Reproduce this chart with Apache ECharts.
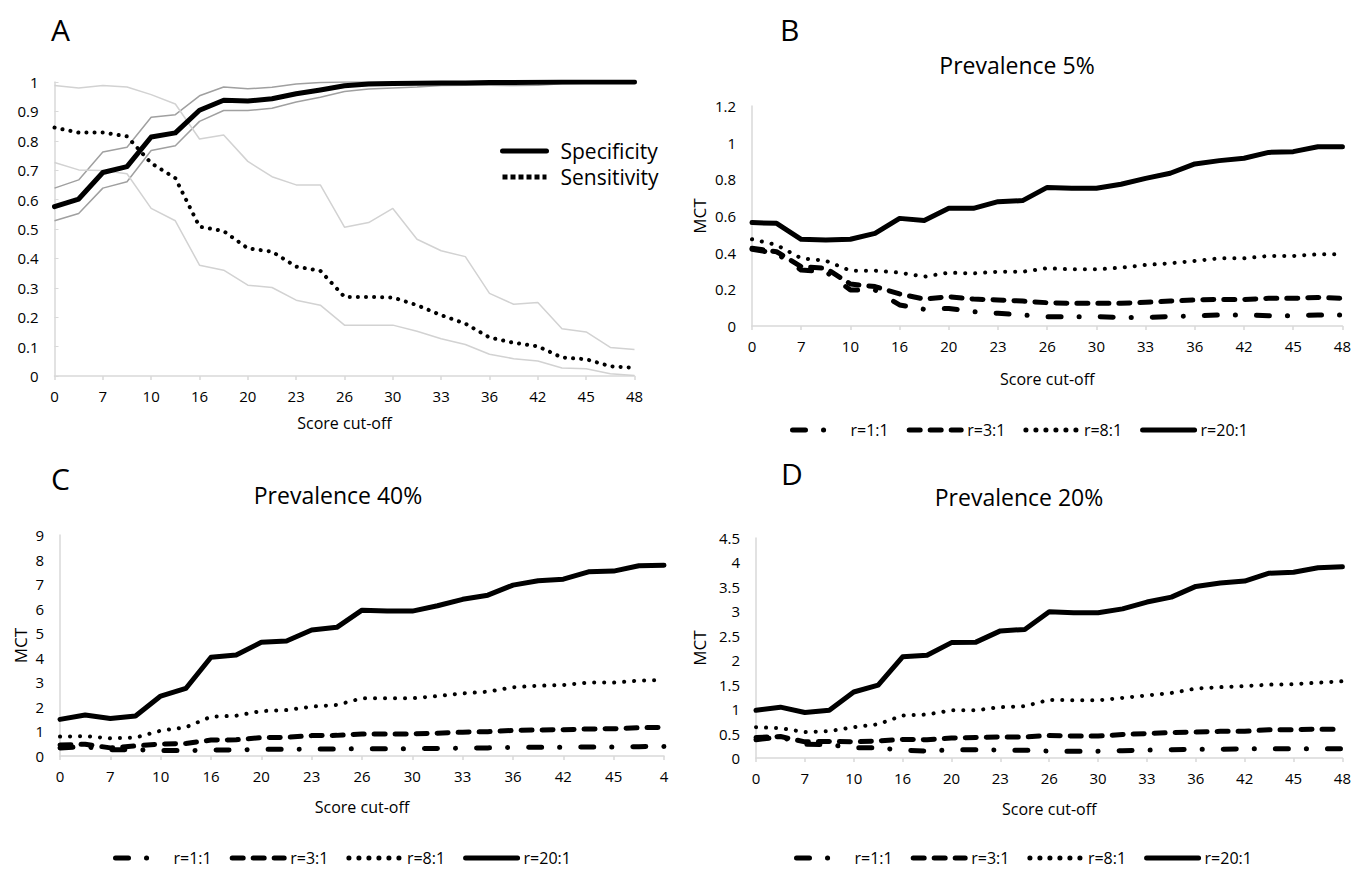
<!DOCTYPE html>
<html>
<head>
<meta charset="utf-8">
<script src="https://cdn.jsdelivr.net/npm/echarts@6/dist/echarts.min.js"></script>
<style>
html,body{margin:0;padding:0;background:#fff;}
#chart{width:1354px;height:870px;}
</style>
</head>
<body>
<div id="chart"></div>
<script>
// ---- data ----
const cutoffs = ['0','3','7','8','10','13','16','18','20','21','23','24','26','28','30','31','33','34','36','39','42','43','45','46','48'];
const cutoffsC = ['0','3','7','8','10','13','16','18','20','21','23','24','26','28','30','31','33','34','36','39','42','43','45','46','4'];

// Panel A
const specificity   = [0.576,0.602,0.692,0.712,0.813,0.827,0.904,0.938,0.935,0.943,0.960,0.973,0.987,0.993,0.995,0.996,0.997,0.997,0.998,0.998,0.999,1,1,1,1];
const specUpper     = [0.639,0.667,0.762,0.778,0.880,0.889,0.953,0.983,0.977,0.982,0.993,0.998,1,1,1,1,1,1,1,1,1,1,1,1,1];
const specLower     = [0.528,0.553,0.639,0.661,0.767,0.783,0.866,0.903,0.903,0.911,0.932,0.948,0.968,0.976,0.980,0.983,0.988,0.989,0.989,0.988,0.989,0.994,0.996,0.998,0.998];
const sensitivity   = [0.845,0.828,0.828,0.815,0.724,0.673,0.508,0.493,0.434,0.423,0.372,0.358,0.269,0.269,0.267,0.241,0.207,0.178,0.131,0.113,0.101,0.063,0.057,0.033,0.028];
const sensUpper     = [0.988,0.980,0.988,0.983,0.957,0.925,0.806,0.820,0.730,0.678,0.650,0.650,0.506,0.522,0.570,0.465,0.426,0.406,0.281,0.244,0.250,0.161,0.150,0.097,0.090];
const sensLower     = [0.726,0.701,0.699,0.688,0.570,0.528,0.377,0.360,0.309,0.301,0.258,0.241,0.173,0.173,0.173,0.152,0.127,0.107,0.074,0.059,0.051,0.027,0.025,0.008,0.002];

// Panel B: prevalence 5%
const b_r1  = [0.418,0.396,0.305,0.296,0.196,0.196,0.115,0.091,0.096,0.078,0.069,0.060,0.051,0.051,0.051,0.047,0.047,0.051,0.055,0.060,0.060,0.056,0.056,0.060,0.060];
const b_r3  = [0.424,0.405,0.324,0.315,0.229,0.215,0.175,0.147,0.160,0.147,0.142,0.136,0.127,0.124,0.124,0.124,0.129,0.136,0.142,0.145,0.145,0.151,0.151,0.156,0.151];
const b_r8  = [0.473,0.442,0.369,0.356,0.302,0.302,0.291,0.269,0.291,0.287,0.296,0.296,0.315,0.309,0.309,0.318,0.333,0.342,0.355,0.369,0.369,0.382,0.382,0.391,0.391];
const b_r20 = [0.564,0.560,0.473,0.469,0.473,0.505,0.587,0.575,0.642,0.642,0.678,0.684,0.756,0.751,0.751,0.773,0.805,0.833,0.884,0.902,0.915,0.947,0.951,0.978,0.978];

// Panel C: prevalence 40%
const c_r1  = [0.33,0.38,0.25,0.26,0.22,0.22,0.24,0.25,0.27,0.27,0.28,0.28,0.30,0.30,0.30,0.31,0.32,0.33,0.35,0.36,0.36,0.37,0.37,0.38,0.39];
const c_r3  = [0.45,0.48,0.33,0.41,0.49,0.51,0.65,0.66,0.75,0.76,0.83,0.84,0.90,0.90,0.90,0.93,0.97,0.99,1.04,1.06,1.07,1.10,1.11,1.15,1.17];
const c_r8  = [0.79,0.81,0.72,0.75,1.03,1.17,1.60,1.64,1.83,1.87,2.01,2.08,2.35,2.35,2.35,2.44,2.55,2.62,2.80,2.86,2.89,2.99,2.99,3.07,3.09];
const c_r20 = [1.49,1.67,1.53,1.63,2.44,2.75,4.02,4.11,4.63,4.68,5.13,5.24,5.94,5.90,5.90,6.12,6.38,6.55,6.96,7.14,7.20,7.50,7.53,7.75,7.77];

// Panel D: prevalence 20%
const d_r1  = [0.375,0.43,0.28,0.27,0.21,0.21,0.16,0.14,0.17,0.17,0.16,0.16,0.14,0.14,0.14,0.15,0.16,0.17,0.18,0.18,0.19,0.19,0.19,0.19,0.19];
const d_r3  = [0.42,0.44,0.33,0.34,0.33,0.35,0.38,0.375,0.41,0.42,0.43,0.43,0.46,0.45,0.45,0.48,0.50,0.52,0.53,0.545,0.545,0.58,0.58,0.59,0.59];
const d_r8  = [0.63,0.61,0.53,0.55,0.63,0.69,0.87,0.89,0.975,0.975,1.04,1.06,1.19,1.18,1.18,1.23,1.28,1.33,1.42,1.45,1.47,1.50,1.51,1.54,1.57];
const d_r20 = [0.975,1.04,0.93,0.975,1.35,1.49,2.07,2.10,2.36,2.37,2.60,2.63,2.99,2.97,2.97,3.05,3.19,3.29,3.51,3.58,3.62,3.78,3.80,3.89,3.91];

const ratioNames = ['r=1:1','r=3:1','r=8:1','r=20:1'];
const panelTitles = ['Prevalence 5%','Prevalence 40%','Prevalence 20%'];

// ---- styling ----
const FONT = 'Open Sans';
const AXIS_GRAY = '#d9d9d9';
const ratioStyles = [
  {width:5, type:[13,18,0.1,21], cap:'round'},
  {width:5, type:[11,10], cap:'round'},
  {width:4, type:[0.1,9.9], cap:'round'},
  {width:5, type:'solid', cap:'round'}
];

const grids = [
  {left:54.5, top:82,  width:580, height:294},
  {left:752,  top:106, width:591, height:220},
  {left:60,   top:535, width:604, height:221},
  {left:756,  top:538, width:591, height:220}
];
const xNameGaps = [39, 45, 43, 43];

function xAxisFor(i, cats){
  return {
    type:'category', gridIndex:i, data:cats, boundaryGap:false,
    name:'Score cut-off', nameLocation:'middle', nameGap: xNameGaps[i],
    nameTextStyle:{fontFamily:FONT, fontSize:16, color:'#000'},
    axisLine:{lineStyle:{color:AXIS_GRAY, width:1.5}},
    axisTick:{show:true, interval:1, length:4, lineStyle:{color:AXIS_GRAY, width:1.5}},
    axisLabel:{interval:1, margin:12, fontFamily:FONT, fontSize:15, color:'#000'},
    splitLine:{show:false}
  };
}
function yAxisFor(i, max, interval, withName, nameGap){
  return {
    type:'value', gridIndex:i, min:0, max:max, interval:interval,
    name: withName ? 'MCT' : '', nameLocation:'middle', nameGap:nameGap || 40,
    nameTextStyle:{fontFamily:FONT, fontSize:17, color:'#000'},
    axisLine:{show:true, lineStyle:{color:AXIS_GRAY, width:1.5}},
    axisTick:{show: i===0, inside:true, length:4, lineStyle:{color:AXIS_GRAY}},
    axisLabel:{margin:16, fontFamily:FONT, fontSize:15, color:'#000'},
    splitLine:{show:false}
  };
}

function lineSeries(name, data, gi, ls, color, z){
  return {
    type:'line', name:name, data:data, xAxisIndex:gi, yAxisIndex:gi,
    symbol:'none', smooth:false, silent:true, z:z||2,
    lineStyle:{color:color||'#000', width:ls.width, type:ls.type, cap:ls.cap||'butt', join:'round'},
    itemStyle:{color:color||'#000'},
    emphasis:{disabled:true}
  };
}

const series = [
  lineSeries('Specificity upper', specUpper, 0, {width:1.5, type:'solid'}, '#a0a0a0', 1),
  lineSeries('Specificity lower', specLower, 0, {width:1.5, type:'solid'}, '#a0a0a0', 1),
  lineSeries('Sensitivity upper', sensUpper, 0, {width:1.5, type:'solid'}, '#d2d2d2', 1),
  lineSeries('Sensitivity lower', sensLower, 0, {width:1.5, type:'solid'}, '#d2d2d2', 1),
  lineSeries('Specificity', specificity, 0, {width:5, type:'solid', cap:'round'}, '#000', 3),
  lineSeries('Sensitivity', sensitivity, 0, {width:4, type:[0.1,8], cap:'round'}, '#000', 3)
];
const panelData = [
  [b_r1,b_r3,b_r8,b_r20],
  [c_r1,c_r3,c_r8,c_r20],
  [d_r1,d_r3,d_r8,d_r20]
];
panelData.forEach((arrs, p) => {
  arrs.forEach((arr, k) => {
    series.push(lineSeries(ratioNames[k], arr, p+1, ratioStyles[k], '#000', 2 + k));
  });
});

function ratioLegend(left, top){
  return {
    left:left, top:top, orient:'horizontal', padding:0,
    itemWidth:52, itemHeight:14, itemGap:18,
    data: ratioNames.map(n => ({name:n})),
    itemStyle:{opacity:0},
    lineStyle:{width:5},
    textStyle:{fontFamily:FONT, fontSize:16, color:'#000', padding:[0,0,0,1], lineHeight:16},
    selectedMode:false
  };
}

const letterStyle = {fontFamily:FONT, fontSize:30, fontWeight:'normal', color:'#000'};
const titleStyle = {fontFamily:FONT, fontSize:23, fontWeight:'normal', color:'#000'};

const option = {
  animation:false,
  backgroundColor:'#fff',
  title:[
    {text:'A', left:51, top:29, textVerticalAlign:'middle', padding:0, textStyle:letterStyle},
    {text:'B', left:780, top:29, textVerticalAlign:'middle', padding:0, textStyle:letterStyle},
    {text:'C', left:51, top:478, textVerticalAlign:'middle', padding:0, textStyle:letterStyle},
    {text:'D', left:781, top:473, textVerticalAlign:'middle', padding:0, textStyle:letterStyle},
    {text:panelTitles[0], left:1017, top:65, textAlign:'center', textVerticalAlign:'middle', padding:0, textStyle:titleStyle},
    {text:panelTitles[1], left:338, top:495, textAlign:'center', textVerticalAlign:'middle', padding:0, textStyle:titleStyle},
    {text:panelTitles[2], left:1019, top:497, textAlign:'center', textVerticalAlign:'middle', padding:0, textStyle:titleStyle}
  ],
  legend:[
    {
      left:500, top:138, orient:'vertical', padding:0,
      itemWidth:44, itemHeight:14, itemGap:0,
      data:[
        {name:'Specificity', lineStyle:{width:5}},
        {name:'Sensitivity', lineStyle:{width:5, type:[5,3], cap:'butt'}}
      ],
      itemStyle:{opacity:0},
      textStyle:{fontFamily:FONT, fontSize:21, color:'#000', lineHeight:26, padding:[0,0,0,9]},
      selectedMode:false
    },
    ratioLegend(790, 422),
    ratioLegend(113, 850),
    ratioLegend(794, 850)
  ],
  grid:grids.map(g => Object.assign({containLabel:false}, g)),
  xAxis:[xAxisFor(0, cutoffs), xAxisFor(1, cutoffs), xAxisFor(2, cutoffsC), xAxisFor(3, cutoffs)],
  yAxis:[
    yAxisFor(0, 1, 0.1, false),
    yAxisFor(1, 1.2, 0.2, true, 44),
    yAxisFor(2, 9, 1, true, 31),
    yAxisFor(3, 4.5, 0.5, true, 48)
  ],
  series:series
};

const chart = echarts.init(document.getElementById('chart'), null, {renderer:'svg', width:1354, height:870});
chart.setOption(option);
</script>
</body>
</html>
